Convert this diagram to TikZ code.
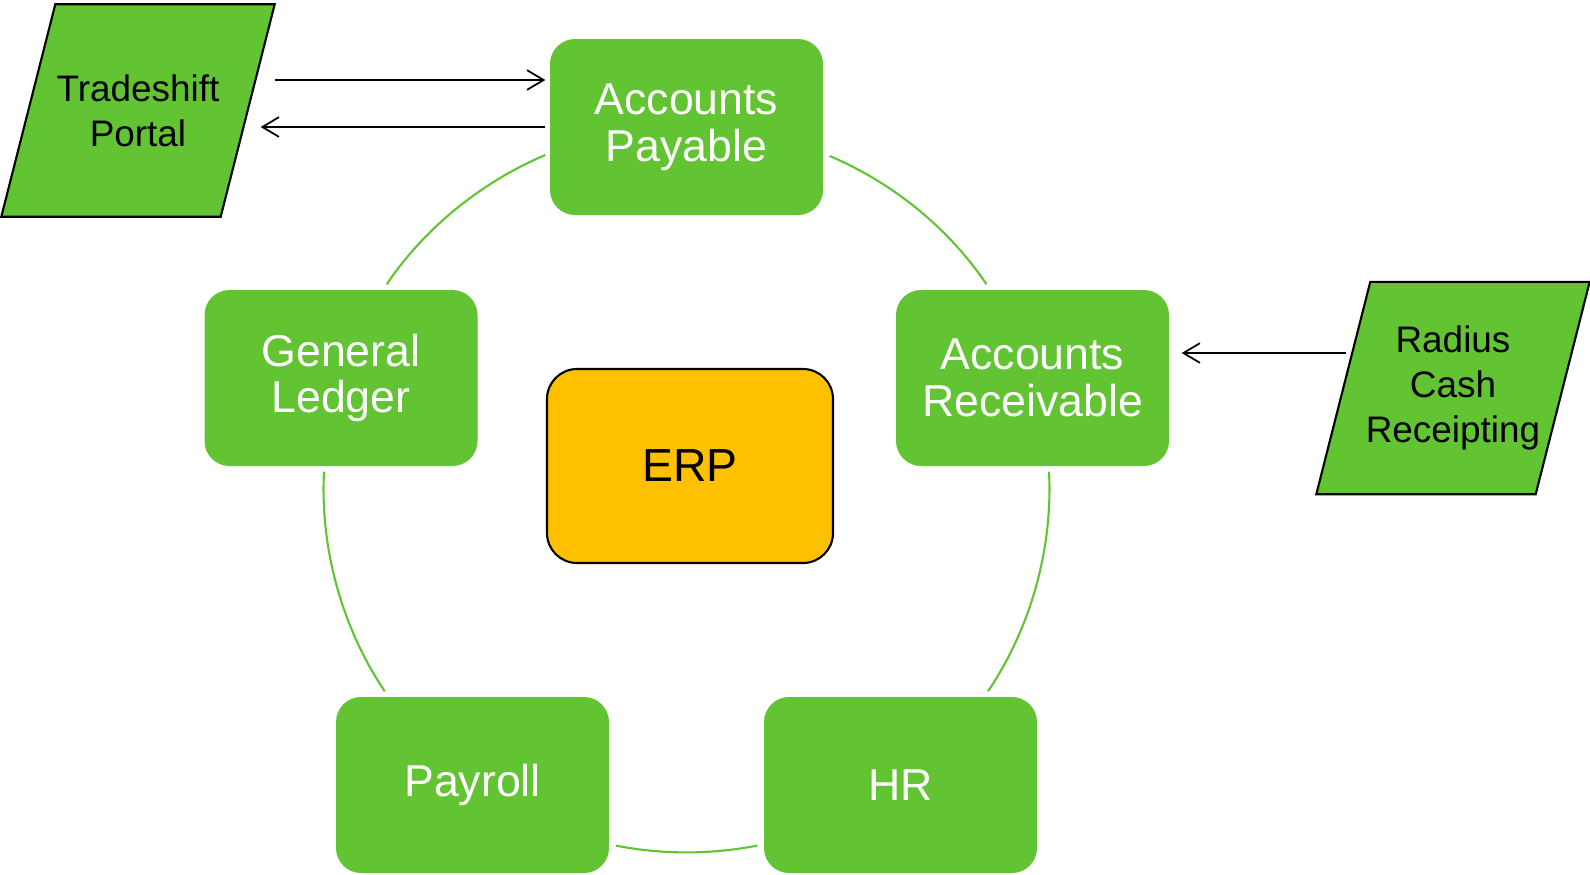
\documentclass[tikz,border=0pt]{standalone}
\usepackage{fontspec}
\setmainfont{Liberation Sans}
\usetikzlibrary{positioning, calc, backgrounds, arrows.meta}
\definecolor{boxgreen}{RGB}{98,196,50}
\definecolor{erpgold}{RGB}{255,192,0}

\begin{document}
\begin{tikzpicture}[module/.style={rectangle, rounded corners=0.25cm, fill=boxgreen, text=white, minimum width=2.73cm, minimum height=1.76cm, align=center, inner sep=0pt, font=\fontsize{12.7}{13.3}\selectfont},
    core/.style={rectangle, rounded corners=0.3cm, draw=black, line width=0.6pt, fill=erpgold, minimum width=2.86cm, minimum height=1.94cm, font=\fontsize{13.2}{14}\selectfont},
    portal/.style={rectangle, minimum width=2.72cm, minimum height=2.11cm, align=center, inner sep=0pt, font=\fontsize{10.5}{12.7}\selectfont},
    portaledge/.style={draw=black, line width=0.6pt, fill=boxgreen},
    link/.style={draw=boxgreen, line width=0.6pt, looseness=0.86},
    feed/.style={draw=black, line width=0.5pt, -{Straight Barb[length=4.7pt,width=5.6pt]}}
    ]
    \useasboundingbox (0,0) rectangle (15.9,-8.74);

    % the ERP modules round the core
    \node[core] (erp) at (6.90,-4.66) {ERP};
    \node[module] (ap) at (6.865,-1.27) {Accounts\\Payable};
    \node[module] (ar) at (10.325,-3.78) {Accounts\\Receivable};
    \node[module] (hr) at (9.005,-7.85) {HR};
    \node[module] (pay) at (4.725,-7.85) {Payroll};
    \node[module] (gl) at (3.41,-3.78) {General\\Ledger};

    % outside systems
    \node[portal] (ts) at (1.38,-1.105) {Tradeshift\\Portal};
    \node[portal] (rcr) at (14.53,-3.88) {Radius\\Cash\\Receipting};
    \begin{scope}[on background layer]
        \foreach \p in {ts,rcr} {
            \path[portaledge] ($(\p.north west)+(0.54,0)$) -- (\p.north east)
            -- ($(\p.south east)+(-0.54,0)$) -- (\p.south west) -- cycle;
        }
    \end{scope}

    % the cycle, from module to module
    \path[every edge/.style={link}]
    ($(ap.east)+(0.06,-0.29)$) edge[out=-23, in=124] ($(ar.north)+(-0.46,0.05)$)
    ($(ar.south)+(0.165,-0.05)$) edge[out=-87, in=56] ($(hr.north)+(0.875,0.05)$)
    ($(hr.west)+(-0.06,-0.606)$) edge[out=-169, in=-11] ($(pay.east)+(0.06,-0.606)$)
    ($(pay.north)+(-0.877,0.05)$) edge[out=124, in=-93] ($(gl.south)+(-0.17,-0.05)$)
    ($(gl.north)+(0.457,0.05)$) edge[out=56, in=203] ($(ap.west)+(-0.04,-0.28)$)
    ;

    % feeds in and out
    \path[every edge/.style={feed}]
    ($(ts.north east |- ap.west)+(0,0.47)$) edge ($(ap.west)+(-0.04,0.47)$)
    ($(ap.west)+(-0.04,0)$) edge ($(ts.east |- ap.west)+(-0.14,0)$)
    ($(rcr.west |- ar.east)+(0.30,0.25)$) edge ($(ar.east)+(0.12,0.25)$)
    ;
\end{tikzpicture}
\end{document}
